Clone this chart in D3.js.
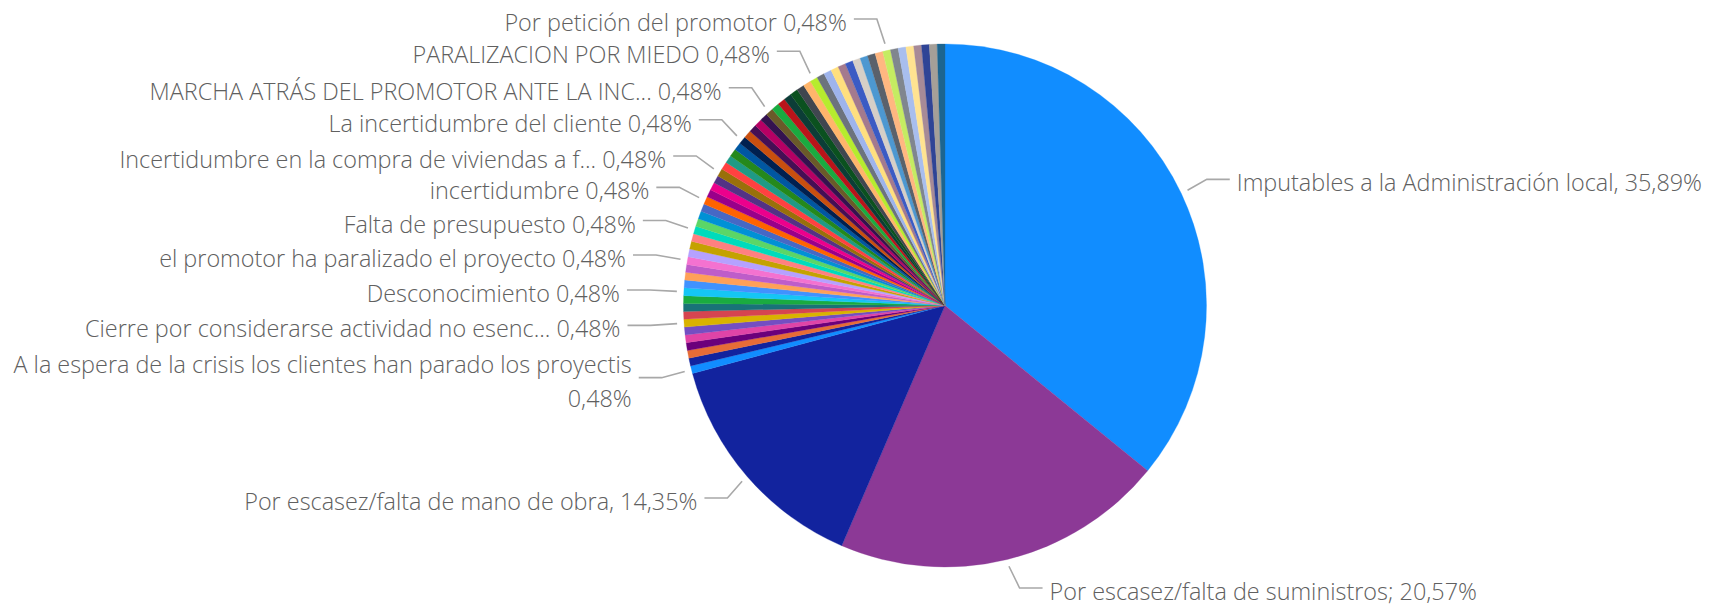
<!DOCTYPE html>
<html><head><meta charset="utf-8">
<script src="https://cdn.jsdelivr.net/npm/d3@7"></script>
<style>
html,body{margin:0;padding:0;background:#fff;}
svg{display:block;}
text{font-family:"Open Sans","Segoe UI",sans-serif;font-weight:300;fill:#606060;}
</style></head><body>
<svg id="chart" width="1710" height="607"></svg>
<script>
// ---- DATA ----
const mainCategories = ["Imputables a la Administración local,", "Por escasez/falta de suministros;", "Por escasez/falta de mano de obra,"];
const mainValues = [75, 43, 30];
const mainColors = ["#118DFF", "#8C3996", "#12239E"];

const smallCategories = [
  "A la espera de la crisis los clientes han parado los proyectis",
  "Otro motivo 1", "Otro motivo 2", "Otro motivo 3", "Otro motivo 4", "Otro motivo 5",
  "Cierre por considerarse actividad no esenc...",
  "Otro motivo 6", "Otro motivo 7", "Otro motivo 8",
  "Desconocimiento",
  "Otro motivo 9", "Otro motivo 10", "Otro motivo 11",
  "el promotor ha paralizado el proyecto",
  "Otro motivo 12", "Otro motivo 13", "Otro motivo 14",
  "Falta de presupuesto",
  "Otro motivo 15", "Otro motivo 16", "Otro motivo 17",
  "incertidumbre",
  "Otro motivo 18", "Otro motivo 19", "Otro motivo 20",
  "Incertidumbre en la compra de viviendas a f...",
  "Otro motivo 21", "Otro motivo 22", "Otro motivo 23", "Otro motivo 24",
  "La incertidumbre del cliente",
  "Otro motivo 25", "Otro motivo 26", "Otro motivo 27", "Otro motivo 28",
  "MARCHA ATRÁS DEL PROMOTOR ANTE LA INC...",
  "Otro motivo 29", "Otro motivo 30", "Otro motivo 31", "Otro motivo 32", "Otro motivo 33", "Otro motivo 34",
  "PARALIZACION POR MIEDO",
  "Otro motivo 35", "Otro motivo 36", "Otro motivo 37", "Otro motivo 38", "Otro motivo 39",
  "Otro motivo 40", "Otro motivo 41", "Otro motivo 42", "Otro motivo 43",
  "Por petición del promotor",
  "Otro motivo 44", "Otro motivo 45", "Otro motivo 46", "Otro motivo 47",
  "Otro motivo 48", "Otro motivo 49", "Otro motivo 50"
];
const smallValues = [
  1,1,1,1,1,1,1,1,1,1,
  1,1,1,1,1,1,1,1,1,1,
  1,1,1,1,1,1,1,1,1,1,
  1,1,1,1,1,1,1,1,1,1,
  1,1,1,1,1,1,1,1,1,1,
  1,1,1,1,1,1,1,1,1,1,
  1
];
const smallColors = [
  "#118DFF","#12239E","#E66C37","#6B007B","#E044A7","#744EC2","#D9B300","#D64550","#197278","#1AAB40",
  "#15C6F4","#4092FF","#FFA058","#BE5DC9","#F472D0","#B5A1FF","#C4A200","#FF8080","#00DBBC","#5BD667",
  "#0091D5","#4668C5","#FF6300","#99008A","#EC008C","#533285","#99700A","#FF4141","#1F9A85","#25891C",
  "#0057A2","#002050","#C94F0F","#450F54","#B60064","#34124F","#6A5A29","#1AAB40","#BA141A","#0C3D37",
  "#0B511F","#40464F","#FFB56B","#B6EC2E","#6C737D","#9EB4EC","#FFDF7E","#A47A8E","#3B5BC4","#D6CFC7",
  "#4D98D1","#5A616B","#FFB781","#C5EC62","#80868E","#A8BEEE","#FFE391","#A78A97","#2F4496","#A59F98",
  "#1D6590"
];
const labeledCategories = [
  "Imputables a la Administración local,", "Por escasez/falta de suministros;", "Por escasez/falta de mano de obra,",
  "A la espera de la crisis los clientes han parado los proyectis",
  "Cierre por considerarse actividad no esenc...", "Desconocimiento",
  "el promotor ha paralizado el proyecto", "Falta de presupuesto", "incertidumbre",
  "Incertidumbre en la compra de viviendas a f...", "La incertidumbre del cliente",
  "MARCHA ATRÁS DEL PROMOTOR ANTE LA INC...", "PARALIZACION POR MIEDO", "Por petición del promotor"
];

// ---- BUILD ----
const rows = [];
mainCategories.forEach((c, i) => rows.push({name: c, value: mainValues[i], color: mainColors[i]}));
smallCategories.forEach((c, i) => rows.push({name: c, value: smallValues[i], color: smallColors[i]}));
const total = d3.sum(rows, d => d.value);
const fmtPct = v => (v / total * 100).toFixed(2).replace(".", ",") + "%";

const H = 607;
const cx = 945, cy = 305.5, R = 261.5;
const svg = d3.select("#chart");
const g = svg.append("g").attr("transform", `translate(${cx},${cy})`);

const pie = d3.pie().sort(null).value(d => d.value).startAngle(0).endAngle(2 * Math.PI);
const arcs = pie(rows);
const arc = d3.arc().innerRadius(0).outerRadius(R);

g.selectAll("path.slice").data(arcs).enter().append("path")
  .attr("class", "slice")
  .attr("d", arc)
  .attr("fill", d => d.data.color)
  .attr("stroke", d => d.data.color)
  .attr("stroke-width", 0.3);

// ---- LABELS ----
const labelG = svg.append("g");
const fontSize = 23.4;
const anchorR = R + 7, labelR = 294, seg = 23, gap = 7, lineH = 34;
arcs.filter(d => labeledCategories.includes(d.data.name)).forEach(d => {
  const a = (d.startAngle + d.endAngle) / 2;
  const ax = cx + anchorR * Math.sin(a), ay = cy - anchorR * Math.cos(a);
  const side = ax < cx ? -1 : 1;
  const textCy = Math.min(cy - labelR * Math.cos(a) + 3, H - 16);
  const leadY = textCy - 3;
  const ex = ax + side * Math.max(4, 28 - 0.8 * Math.abs(leadY - ay));
  const hx = ex + side * seg;
  const tx = hx + side * gap;
  const full = d.data.name + " " + fmtPct(d.data.value);

  const t = labelG.append("text")
    .attr("x", tx).attr("y", textCy)
    .attr("dominant-baseline", "central")
    .attr("text-anchor", side < 0 ? "end" : "start")
    .style("font-size", fontSize + "px")
    .text(full);
  const w = t.node().getComputedTextLength();
  if (side < 0 && tx - w < 8) {
    t.text(d.data.name).attr("y", textCy - lineH / 2);
    labelG.append("text")
      .attr("x", tx).attr("y", textCy + lineH / 2)
      .attr("dominant-baseline", "central")
      .attr("text-anchor", "end")
      .style("font-size", fontSize + "px")
      .text(fmtPct(d.data.value));
  }
  labelG.append("polyline")
    .attr("points", [[ax, ay], [ex, leadY], [hx, leadY]].map(p => p.join(",")).join(" "))
    .attr("fill", "none")
    .attr("stroke", "#a8a8a8")
    .attr("stroke-width", 1.6);
});
</script>
</body></html>
